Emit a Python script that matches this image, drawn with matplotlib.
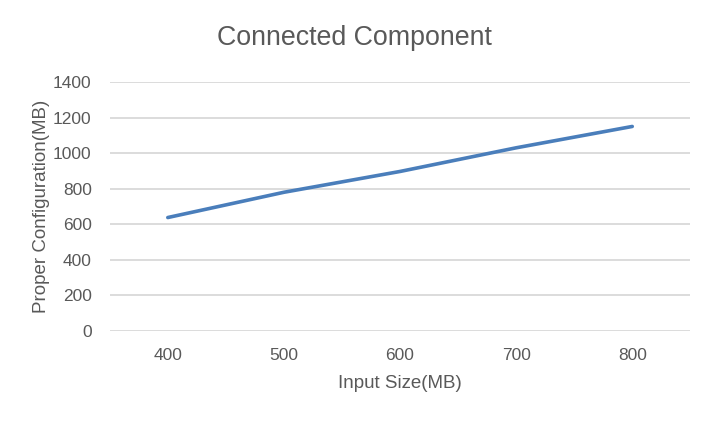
import matplotlib
matplotlib.use("Agg")
import matplotlib.pyplot as plt
from matplotlib import font_manager

input_size = [400, 500, 600, 700, 800]
proper_config = [638, 780, 897, 1030, 1150]
y_ticks = [0, 200, 400, 600, 800, 1000, 1200, 1400]

names = {f.name for f in font_manager.fontManager.ttflist}
fam = "Liberation Sans Narrow" if "Liberation Sans Narrow" in names else "Liberation Sans"
plt.rcParams['font.family'] = [fam, 'DejaVu Sans']

grey = "#595959"
fig = plt.figure(figsize=(7.08, 4.22), dpi=100)
ax = fig.add_axes([0.155, 0.2156, 0.82, 0.5901])
ax.plot(input_size, proper_config, color="#4a7ebb", linewidth=2.6, solid_capstyle="round")
ax.set_xlim(350, 850)
ax.set_ylim(0, 1400)
ax.set_xticks(input_size)
ax.set_yticks(y_ticks)
ax.grid(axis="y", color="#d9d9d9", linewidth=1.3)
ax.set_axisbelow(True)
for s in ax.spines.values():
    s.set_visible(False)
ax.tick_params(length=0, colors=grey, labelsize=12.5)
ax.tick_params(axis="y", pad=13)
ax.tick_params(axis="x", pad=12)
ax.set_xlabel("Input Size(MB)", color=grey, fontsize=13.5, labelpad=9)
ax.set_ylabel("Proper Configuration(MB)", color=grey, fontsize=13.5, labelpad=2,
              family=['Liberation Sans', 'DejaVu Sans'])
fig.suptitle("Connected Component", color=grey, fontsize=19.3, y=0.94)
fig.savefig("out.png", dpi=100)
